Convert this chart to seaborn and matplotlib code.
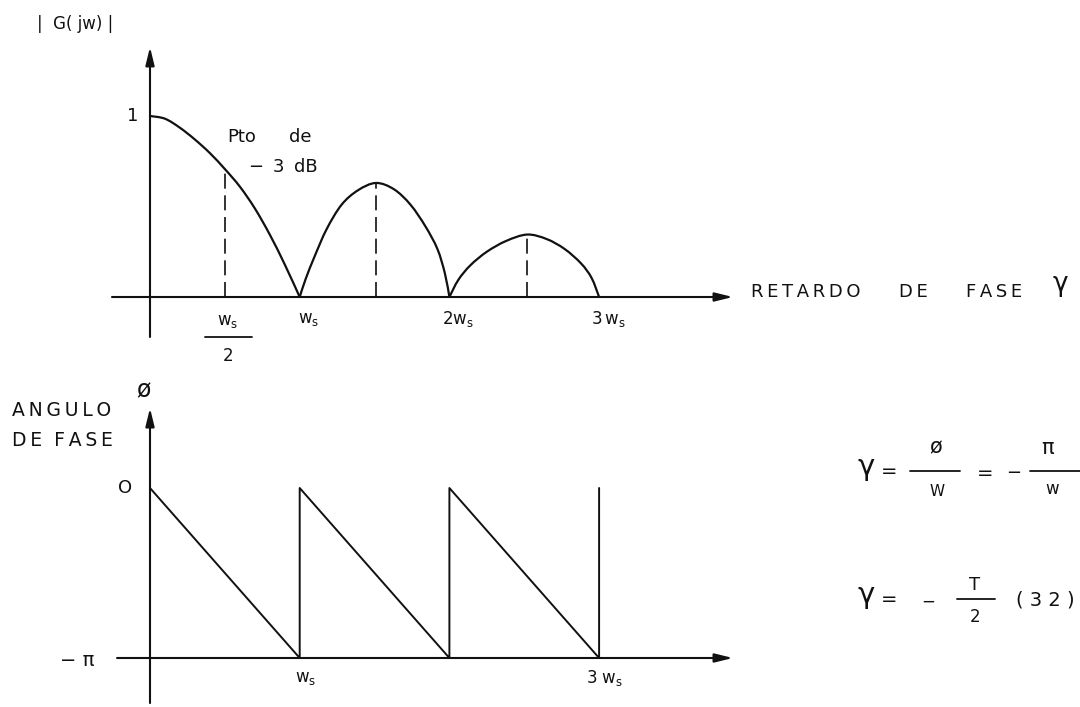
import matplotlib
matplotlib.use("Agg")
import matplotlib.pyplot as plt
from matplotlib.lines import Line2D
from matplotlib.path import Path
from matplotlib.patches import PathPatch
import pandas as pd
import seaborn as sns

# |G(jw)| of the zero-order hold, frequency in units of ws
lobe1_w = [0.0, 0.1, 0.2, 0.3, 0.4, 0.5, 0.6, 0.7, 0.8, 0.9, 1.0]
lobe1_g = [1.0, 0.985, 0.935, 0.87, 0.795, 0.707, 0.61, 0.49, 0.345, 0.18, 0.0]
lobe2_w = [1.0, 1.04, 1.1, 1.18, 1.28, 1.39, 1.51, 1.63, 1.74, 1.84, 1.92, 1.97, 2.0]
lobe2_g = [0.0, 0.1, 0.225, 0.375, 0.51, 0.59, 0.63, 0.595, 0.51, 0.39, 0.265, 0.13, 0.0]
lobe3_w = [2.0, 2.06, 2.14, 2.25, 2.38, 2.52, 2.65, 2.77, 2.88, 2.95, 3.0]
lobe3_g = [0.0, 0.095, 0.175, 0.25, 0.31, 0.345, 0.32, 0.265, 0.185, 0.105, 0.0]

# dashed guides: -3 dB point and the peaks of the side lobes
guide_w = [0.5, 1.51, 2.52]
guide_g = [0.707, 0.63, 0.345]

# phase angle in units of pi (sawtooth)
phase_w = [0, 1, 1, 2, 2, 3, 3]
phase_pi = [0, -1, 0, -1, 0, -1, 0]

# tick labels
mag_ticks = [1, 2, 3]
mag_tick_labels = [r"$\mathregular{w_s}$", r"$\mathregular{2w_s}$", r"$\mathregular{3\,w_s}$"]
phase_ticks = [1, 3]
phase_tick_labels = [r"$\mathregular{w_s}$", r"$\mathregular{3\ w_s}$"]

W, H = 1080, 707
sns.set_theme(style="white")
plt.rcParams["font.family"] = ["DejaVu Sans"]
plt.rcParams["mathtext.fontset"] = "dejavusans"

fig = plt.figure(figsize=(W / 100, H / 100), dpi=100)
fig.patch.set_facecolor("white")

TS = "\u2009"  # thin space used for letter spacing


def spaced(word):
    return TS.join(word)


def fx(px):
    return px / W


def fy(py):
    return 1 - py / H


def smooth_path(xs, ys):
    """Cubic Bezier path through every (x, y) point (Catmull-Rom tangents)."""
    pts = list(zip(xs, ys))
    n = len(pts)
    verts, codes = [pts[0]], [Path.MOVETO]
    for i in range(n - 1):
        p0 = pts[i - 1] if i > 0 else pts[i]
        p1, p2 = pts[i], pts[i + 1]
        p3 = pts[i + 2] if i + 2 < n else pts[i + 1]
        c1 = (p1[0] + (p2[0] - p0[0]) / 6, p1[1] + (p2[1] - p0[1]) / 6)
        c2 = (p2[0] - (p3[0] - p1[0]) / 6, p2[1] - (p3[1] - p1[1]) / 6)
        verts += [c1, c2, p2]
        codes += [Path.CURVE4] * 3
    return Path(verts, codes)


# pixel layout of the two panels
X0, SX = 150.0, 149.7          # origin and pixels per ws
Y0_TOP, SY_TOP = 297.0, 181.0  # |G| = 0 baseline and pixels per unit
Y0_BOT, SY_BOT = 488.0, 170.0  # phase 0 and pixels per pi
SPLIT = 353

ax1 = fig.add_axes([0, fy(SPLIT), 1, SPLIT / H])
ax2 = fig.add_axes([0, 0, 1, (H - SPLIT) / H])
ax1.set_xlim(-X0 / SX, (W - X0) / SX)
ax1.set_ylim((Y0_TOP - SPLIT) / SY_TOP, Y0_TOP / SY_TOP)
ax2.set_xlim(-X0 / SX, (W - X0) / SX)
ax2.set_ylim((Y0_BOT - H) / SY_BOT, (Y0_BOT - SPLIT) / SY_BOT)
for ax in (ax1, ax2):
    ax.set_axis_off()

ink = "#111111"

# ---- magnitude panel ----
lobes = pd.concat([
    pd.DataFrame({"w": ws, "g": gs, "lobe": k})
    for k, (ws, gs) in enumerate([(lobe1_w, lobe1_g), (lobe2_w, lobe2_g), (lobe3_w, lobe3_g)])
])
# register the lobes on the axes (invisible), then draw them as smooth arcs
sns.lineplot(data=lobes, x="w", y="g", units="lobe", estimator=None, sort=False,
             color=ink, lw=0, ax=ax1, legend=False)
for _, grp in lobes.groupby("lobe"):
    ax1.add_patch(PathPatch(smooth_path(grp["w"].tolist(), grp["g"].tolist()),
                            facecolor="none", edgecolor=ink, lw=1.6,
                            capstyle="round", joinstyle="round"))
for w, g in zip(guide_w, guide_g):
    ax1.plot([w, w], [0, g], color=ink, lw=1.2, dashes=(9, 4))

arrow = dict(arrowstyle="-|>,head_length=0.9,head_width=0.22", lw=1.5,
             color=ink, shrinkA=0, shrinkB=0)
ax1.annotate("", xy=(3.894, 0), xytext=(-0.254, 0), arrowprops=arrow)
ax1.annotate("", xy=(0, 1.381), xytext=(0, -0.221), arrowprops=arrow)


def t1(py):
    return (Y0_TOP - py) / SY_TOP


def t2(py):
    return (Y0_BOT - py) / SY_BOT


for t, lab in zip(mag_ticks, mag_tick_labels):
    ax1.text(t + 0.06, t1(319), lab, ha="center", va="center", fontsize=12, color=ink)
# ws / 2
ax1.text(0.52, t1(321), r"$\mathregular{w_s}$", ha="center", va="center", fontsize=12, color=ink)
fig.add_artist(Line2D([fx(205), fx(252)], [fy(337), fy(337)], color=ink, lw=1.3))
fig.text(fx(228), fy(356), "2", ha="center", va="center", fontsize=12, color=ink)

fig.text(fx(75), fy(24), "|  G( jw) |", ha="center", va="center", fontsize=12, color=ink)
fig.text(fx(133), fy(116), "1", ha="center", va="center", fontsize=13, color=ink)
fig.text(fx(242), fy(137), "Pto", ha="center", va="center", fontsize=13, color=ink)
fig.text(fx(300), fy(137), "de", ha="center", va="center", fontsize=13, color=ink)
fig.text(fx(256), fy(167), "−", ha="center", va="center", fontsize=13, color=ink)
fig.text(fx(278), fy(167), "3", ha="center", va="center", fontsize=13, color=ink)
fig.text(fx(306), fy(167), "dB", ha="center", va="center", fontsize=13, color=ink)

fig.text(fx(806), fy(292), spaced("RETARDO"), ha="center", va="center", fontsize=13, color=ink)
fig.text(fx(913), fy(292), spaced("DE"), ha="center", va="center", fontsize=13, color=ink)
fig.text(fx(994), fy(292), spaced("FASE"), ha="center", va="center", fontsize=13, color=ink)
fig.text(fx(1060), fy(284), "γ", ha="center", va="center", fontsize=19, color=ink)

# ---- phase panel ----
dfp = pd.DataFrame({"w": phase_w, "phi": phase_pi})
sns.lineplot(data=dfp, x="w", y="phi", sort=False, estimator=None,
             color=ink, lw=1.4, ax=ax2)
ax2.annotate("", xy=(3.894, -1), xytext=(-0.22, -1), arrowprops=arrow)
ax2.annotate("", xy=(0, 0.47), xytext=(0, -1.265), arrowprops=arrow)

for t, lab in zip(phase_ticks, phase_tick_labels):
    ax2.text(t + 0.04, t2(678), lab, ha="center", va="center", fontsize=12, color=ink)

fig.text(fx(12), fy(410), spaced("ANGULO"), ha="left", va="center", fontsize=13.5, color=ink)
fig.text(fx(12), fy(441), spaced("DE") + "  " + spaced("FASE"), ha="left", va="center",
         fontsize=13.5, color=ink)
fig.text(fx(143), fy(390), "ø", ha="center", va="center", fontsize=17, color=ink)
fig.text(fx(125), fy(488), "O", ha="center", va="center", fontsize=13, color=ink)
fig.text(fx(77), fy(660), "− π", ha="center", va="center", fontsize=14, color=ink)

# ---- phase-delay relations ----
fig.text(fx(866), fy(467), "γ", ha="center", va="center", fontsize=21, color=ink)
fig.text(fx(889), fy(472), "=", ha="center", va="center", fontsize=14, color=ink)
fig.text(fx(936), fy(447), "ø", ha="center", va="center", fontsize=15, color=ink)
fig.add_artist(Line2D([fx(910), fx(960)], [fy(471), fy(471)], color=ink, lw=1.3))
fig.text(fx(937), fy(491), "W", ha="center", va="center", fontsize=11, color=ink)
fig.text(fx(985), fy(473), "=", ha="center", va="center", fontsize=14, color=ink)
fig.text(fx(1014), fy(473), "−", ha="center", va="center", fontsize=13, color=ink)
fig.add_artist(Line2D([fx(1030), fx(1080)], [fy(471), fy(471)], color=ink, lw=1.3))
fig.text(fx(1048), fy(448), "π", ha="center", va="center", fontsize=15, color=ink)
fig.text(fx(1052), fy(489), "w", ha="center", va="center", fontsize=12, color=ink)

fig.text(fx(866), fy(595), "γ", ha="center", va="center", fontsize=21, color=ink)
fig.text(fx(889), fy(600), "=", ha="center", va="center", fontsize=14, color=ink)
fig.text(fx(928), fy(602), "−", ha="center", va="center", fontsize=12, color=ink)
fig.add_artist(Line2D([fx(957), fx(995)], [fy(599), fy(599)], color=ink, lw=1.3))
fig.text(fx(975), fy(585), "T", ha="center", va="center", fontsize=13, color=ink)
fig.text(fx(975), fy(617), "2", ha="center", va="center", fontsize=12, color=ink)
fig.text(fx(1016), fy(600), "( 3 2 )", ha="left", va="center", fontsize=14, color=ink)

fig.savefig("out.png", dpi=100, facecolor="white")
